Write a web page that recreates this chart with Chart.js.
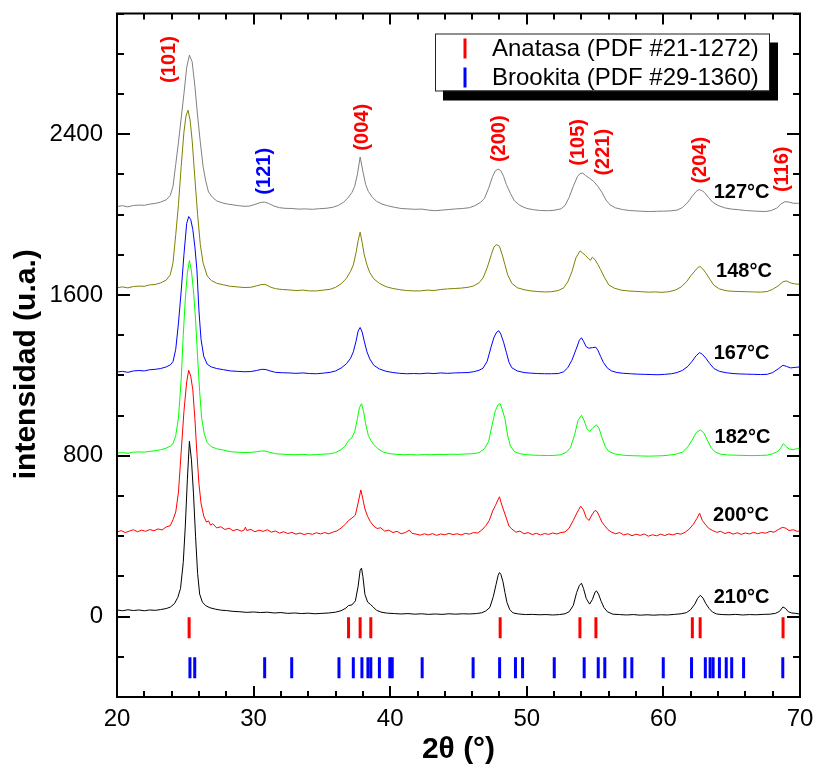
<!DOCTYPE html>
<html>
<head>
<meta charset="utf-8">
<title>DRX - TiO2</title>
<script src="https://cdn.jsdelivr.net/npm/chart.js"></script>
<style>
  html, body { margin: 0; padding: 0; background: #fff; }
  #wrap { width: 815px; height: 770px; }
</style>
</head>
<body>
<div id="wrap"><canvas id="drx" width="815" height="770"></canvas></div>
<script>
// ---- Reference reflections, 2θ (°) ----
const anatasaRefs = [25.28, 36.95, 37.80, 38.58, 48.05, 53.89, 55.06, 62.12, 62.69, 68.76];
const brookitaRefs = [25.34, 25.69, 30.81, 32.79, 36.25, 37.30, 37.93, 38.37, 38.58, 39.21,
  39.97, 40.15, 42.34, 46.07, 48.01, 49.17, 49.69, 52.01, 54.20, 55.23, 55.71, 57.18,
  57.69, 59.99, 62.06, 63.07, 63.42, 63.64, 64.10, 64.60, 65.00, 65.87, 68.74];

// ---- Axis ticks ----
const xTickValues = [20, 30, 40, 50, 60, 70];
const yTickValues = [0, 800, 1600, 2400];

// ---- Patterns, [2θ, intensidad] (curves offset vertically) ----
const t127 = [
  [20.0,2040],[20.4,2044],[20.8,2038],[21.2,2045],[21.6,2047],[22.0,2046],[22.4,2052],[22.8,2055],
  [23.2,2062],[23.6,2073],[23.9,2095],[24.1,2140],[24.3,2250],[24.5,2360],[24.7,2480],[24.9,2600],
  [25.1,2730],[25.3,2793],[25.5,2760],[25.7,2640],[25.9,2490],[26.1,2360],[26.3,2240],[26.5,2165],
  [26.7,2112],[27.0,2085],[27.3,2068],[27.7,2058],[28.1,2052],[28.5,2048],[28.9,2044],[29.3,2041],
  [29.7,2042],[30.1,2050],[30.5,2060],[30.8,2062],[31.1,2055],[31.5,2042],[31.9,2034],[32.3,2031],
  [32.8,2030],[33.3,2027],[33.8,2028],[34.3,2026],[34.8,2029],[35.3,2031],[35.8,2036],[36.2,2045],
  [36.6,2062],[36.9,2082],[37.2,2110],[37.4,2140],[37.6,2200],[37.8,2286],[38.0,2215],[38.2,2150],
  [38.4,2115],[38.7,2085],[39.0,2066],[39.4,2052],[39.8,2044],[40.3,2036],[40.8,2030],[41.3,2028],
  [41.8,2026],[42.3,2027],[42.8,2022],[43.3,2019],[43.8,2022],[44.3,2025],[44.8,2028],[45.3,2030],
  [45.8,2034],[46.2,2044],[46.6,2060],[46.9,2080],[47.2,2130],[47.5,2190],[47.7,2218],[47.9,2226],
  [48.1,2218],[48.3,2190],[48.5,2150],[48.8,2105],[49.1,2068],[49.5,2045],[50.0,2030],[50.5,2024],
  [51.0,2020],[51.5,2019],[52.0,2021],[52.5,2028],[52.8,2045],[53.1,2085],[53.4,2140],[53.7,2188],
  [53.9,2204],[54.1,2206],[54.3,2194],[54.6,2180],[54.9,2165],[55.2,2140],[55.5,2110],[55.8,2072],
  [56.1,2048],[56.5,2033],[57.0,2025],[57.5,2020],[58.0,2018],[58.5,2016],[59.0,2015],[59.5,2016],
  [60.0,2017],[60.5,2018],[61.0,2022],[61.4,2035],[61.8,2062],[62.1,2090],[62.4,2115],[62.6,2124],
  [62.8,2120],[63.0,2110],[63.3,2085],[63.6,2062],[64.0,2045],[64.5,2033],[65.0,2027],[65.5,2024],
  [66.0,2020],[66.5,2018],[67.0,2016],[67.5,2015],[67.9,2020],[68.3,2032],[68.6,2052],[68.9,2064],
  [69.2,2062],[69.5,2056],[69.8,2056],[70.0,2055]
];
const t148 = [
  [20.0,1636],[20.4,1640],[20.8,1635],[21.2,1642],[21.6,1644],[22.0,1643],[22.4,1650],[22.8,1652],
  [23.2,1660],[23.6,1674],[23.9,1700],[24.1,1760],[24.3,1900],[24.5,2050],[24.7,2240],[24.9,2410],
  [25.05,2490],[25.2,2519],[25.35,2470],[25.5,2370],[25.7,2181],[25.9,2000],[26.1,1850],[26.3,1760],
  [26.6,1695],[26.9,1672],[27.3,1658],[27.8,1650],[28.3,1643],[28.8,1640],[29.3,1637],[29.8,1638],
  [30.2,1645],[30.6,1652],[30.9,1651],[31.2,1640],[31.6,1631],[32.1,1627],[32.6,1625],[33.1,1622],
  [33.6,1624],[34.1,1620],[34.6,1620],[35.1,1624],[35.6,1628],[36.0,1638],[36.4,1655],[36.8,1683],
  [37.1,1718],[37.3,1749],[37.5,1810],[37.65,1870],[37.8,1912],[37.95,1860],[38.1,1800],[38.3,1749],
  [38.5,1712],[38.8,1680],[39.2,1658],[39.7,1641],[40.2,1632],[40.7,1626],[41.2,1622],[41.7,1620],
  [42.2,1620],[42.7,1624],[43.2,1622],[43.7,1627],[44.2,1630],[44.7,1632],[45.2,1634],[45.7,1638],
  [46.1,1645],[46.5,1660],[46.8,1685],[47.1,1735],[47.4,1800],[47.6,1840],[47.8,1850],[48.0,1842],
  [48.2,1800],[48.4,1750],[48.6,1700],[48.9,1658],[49.3,1636],[49.8,1626],[50.3,1620],[50.8,1617],
  [51.3,1615],[51.8,1616],[52.3,1622],[52.7,1635],[53.0,1665],[53.3,1715],[53.6,1785],[53.9,1819],
  [54.1,1808],[54.3,1796],[54.5,1782],[54.65,1772],[54.8,1788],[55.0,1775],[55.2,1752],[55.4,1726],
  [55.7,1685],[56.0,1650],[56.4,1634],[56.9,1624],[57.4,1620],[57.9,1618],[58.4,1616],[58.9,1614],
  [59.4,1615],[59.9,1613],[60.4,1616],[60.9,1625],[61.3,1640],[61.7,1666],[62.0,1695],[62.3,1719],
  [62.55,1738],[62.7,1741],[62.9,1728],[63.1,1710],[63.4,1678],[63.7,1648],[64.1,1630],[64.6,1621],
  [65.1,1618],[65.6,1617],[66.1,1616],[66.6,1615],[67.1,1614],[67.6,1617],[68.0,1628],[68.4,1645],
  [68.75,1665],[69.0,1670],[69.3,1660],[69.6,1655],[70.0,1653]
];
const t167 = [
  [20.0,1217],[20.4,1220],[20.8,1215],[21.2,1222],[21.6,1224],[22.0,1222],[22.4,1228],[22.8,1230],
  [23.2,1234],[23.6,1242],[23.9,1252],[24.1,1268],[24.3,1330],[24.5,1460],[24.7,1620],[24.9,1800],
  [25.1,1955],[25.25,1990],[25.4,1975],[25.55,1925],[25.7,1840],[25.85,1725],[26.0,1520],[26.15,1380],
  [26.35,1295],[26.6,1256],[26.9,1242],[27.3,1234],[27.8,1228],[28.3,1222],[28.8,1220],[29.3,1218],
  [29.8,1219],[30.2,1224],[30.6,1230],[30.9,1229],[31.2,1222],[31.6,1215],[32.1,1213],[32.6,1212],
  [33.1,1210],[33.6,1212],[34.1,1209],[34.6,1208],[35.1,1211],[35.6,1215],[36.0,1222],[36.4,1236],
  [36.8,1258],[37.1,1285],[37.3,1317],[37.5,1370],[37.65,1420],[37.8,1438],[37.95,1415],[38.1,1370],
  [38.3,1317],[38.5,1282],[38.8,1250],[39.2,1232],[39.7,1220],[40.2,1214],[40.7,1210],[41.2,1208],
  [41.7,1209],[42.2,1208],[42.7,1211],[43.2,1209],[43.7,1212],[44.2,1210],[44.7,1212],[45.2,1213],
  [45.7,1214],[46.1,1218],[46.5,1225],[46.8,1236],[47.1,1270],[47.4,1345],[47.6,1390],[47.8,1415],
  [47.95,1422],[48.1,1405],[48.3,1365],[48.5,1315],[48.7,1265],[48.9,1238],[49.3,1222],[49.8,1214],
  [50.3,1211],[50.8,1209],[51.3,1208],[51.8,1208],[52.3,1209],[52.7,1218],[53.0,1238],[53.3,1275],
  [53.6,1328],[53.85,1375],[54.0,1387],[54.15,1370],[54.35,1342],[54.55,1335],[54.8,1338],[55.05,1340],
  [55.2,1325],[55.4,1295],[55.6,1265],[55.9,1236],[56.2,1222],[56.6,1214],[57.1,1210],[57.6,1208],
  [58.1,1206],[58.6,1205],[59.1,1204],[59.6,1203],[60.1,1205],[60.6,1208],[61.0,1214],[61.4,1225],
  [61.8,1245],[62.1,1270],[62.4,1298],[62.65,1313],[62.85,1305],[63.1,1286],[63.4,1258],[63.7,1234],
  [64.1,1220],[64.6,1213],[65.1,1209],[65.6,1207],[66.1,1206],[66.6,1205],[67.1,1204],[67.6,1205],
  [68.0,1214],[68.4,1232],[68.75,1250],[69.0,1245],[69.3,1237],[69.7,1240],[70.0,1242]
];
const t182 = [
  [20.0,813],[20.4,816],[20.8,812],[21.2,818],[21.6,819],[22.0,818],[22.4,822],[22.8,825],
  [23.2,830],[23.6,838],[23.9,848],[24.1,860],[24.3,900],[24.5,990],[24.7,1180],[24.85,1400],
  [25.0,1580],[25.15,1710],[25.3,1771],[25.45,1720],[25.6,1620],[25.75,1480],[25.9,1290],[26.05,1120],
  [26.2,985],[26.4,905],[26.6,866],[26.9,845],[27.3,835],[27.8,828],[28.3,820],[28.8,818],
  [29.3,816],[29.8,817],[30.2,820],[30.6,824],[30.9,823],[31.2,817],[31.6,810],[32.1,808],
  [32.6,806],[33.1,805],[33.6,807],[34.1,804],[34.6,806],[35.1,808],[35.6,810],[36.0,816],
  [36.4,830],[36.7,848],[36.95,876],[37.2,890],[37.4,920],[37.6,985],[37.75,1040],[37.9,1059],
  [38.05,1020],[38.2,960],[38.4,901],[38.6,875],[38.8,856],[39.1,835],[39.5,818],[40.0,810],
  [40.5,807],[41.0,805],[41.5,806],[42.0,804],[42.5,806],[43.0,805],[43.5,807],[44.0,806],
  [44.5,808],[45.0,807],[45.5,809],[46.0,810],[46.5,815],[46.9,835],[47.2,870],[47.45,950],
  [47.7,1025],[47.9,1055],[48.05,1059],[48.2,1030],[48.4,984],[48.6,900],[48.8,848],[49.1,820],
  [49.5,810],[50.0,805],[50.5,803],[51.0,802],[51.5,801],[52.0,802],[52.5,805],[52.9,818],
  [53.2,840],[53.5,905],[53.75,975],[54.0,1001],[54.2,975],[54.4,935],[54.6,921],[54.85,940],
  [55.1,954],[55.3,935],[55.5,890],[55.75,845],[56.0,822],[56.4,810],[56.9,804],[57.4,801],
  [57.9,800],[58.4,799],[58.9,798],[59.4,799],[59.9,800],[60.4,803],[60.9,808],[61.4,818],
  [61.8,845],[62.1,878],[62.4,915],[62.7,929],[62.95,915],[63.2,880],[63.5,840],[63.8,818],
  [64.2,808],[64.7,804],[65.2,803],[65.7,802],[66.2,801],[66.7,801],[67.2,802],[67.6,803],
  [68.0,810],[68.4,823],[68.6,840],[68.78,860],[68.95,848],[69.2,834],[69.5,830],[69.8,836],
  [70.0,839]
];
const t200 = [
  [20.0,420],[20.3,428],[20.6,418],[20.9,425],[21.2,432],[21.5,422],[21.8,430],[22.1,424],
  [22.4,433],[22.7,427],[23.0,436],[23.3,431],[23.6,446],[23.9,452],[24.1,482],[24.3,520],
  [24.5,620],[24.7,820],[24.9,1020],[25.1,1167],[25.25,1225],[25.4,1195],[25.55,1128],[25.7,985],
  [25.85,812],[26.0,660],[26.15,565],[26.35,500],[26.55,470],[26.7,476],[26.85,455],[27.0,462],
  [27.3,441],[27.6,447],[27.9,433],[28.2,440],[28.5,427],[28.8,434],[29.1,425],[29.3,430],
  [29.4,445],[29.5,428],[29.8,434],[30.1,422],[30.4,430],[30.7,424],[31.0,432],[31.3,420],
  [31.6,426],[31.9,415],[32.2,422],[32.5,413],[32.8,419],[33.1,410],[33.4,416],[33.7,408],
  [34.0,414],[34.3,409],[34.6,417],[34.9,411],[35.2,418],[35.5,412],[35.8,420],[36.1,426],
  [36.4,440],[36.7,458],[36.95,478],[37.2,490],[37.45,505],[37.65,565],[37.85,630],[38.0,585],
  [38.15,535],[38.35,498],[38.55,472],[38.8,450],[39.05,438],[39.3,442],[39.6,425],[39.9,430],
  [40.2,418],[40.5,424],[40.8,412],[41.1,418],[41.4,430],[41.6,414],[41.9,410],[42.2,405],
  [42.5,412],[42.8,406],[43.1,413],[43.4,404],[43.7,411],[44.0,407],[44.3,414],[44.6,408],
  [44.9,412],[45.2,406],[45.5,414],[45.8,410],[46.1,418],[46.4,416],[46.7,430],[47.0,452],
  [47.25,478],[47.5,525],[47.7,552],[47.85,575],[48.0,596],[48.15,560],[48.3,530],[48.5,490],
  [48.7,450],[48.9,436],[49.2,420],[49.5,425],[49.8,412],[50.1,418],[50.4,408],[50.7,414],
  [51.0,406],[51.3,413],[51.6,409],[51.9,416],[52.2,411],[52.5,418],[52.8,421],[53.1,440],
  [53.4,478],[53.7,520],[53.95,549],[54.15,530],[54.35,492],[54.55,478],[54.8,510],[55.0,528],
  [55.15,522],[55.3,500],[55.5,470],[55.7,452],[55.95,432],[56.2,420],[56.5,412],[56.8,418],
  [57.1,406],[57.4,412],[57.7,402],[58.0,410],[58.3,404],[58.6,411],[58.9,400],[59.2,407],
  [59.5,402],[59.8,410],[60.1,403],[60.4,411],[60.7,406],[61.0,414],[61.3,410],[61.6,420],
  [61.9,436],[62.2,460],[62.45,488],[62.65,514],[62.85,478],[63.05,460],[63.3,440],[63.6,428],
  [63.9,419],[64.2,424],[64.5,413],[64.8,420],[65.1,410],[65.4,417],[65.7,409],[66.0,416],
  [66.3,411],[66.6,419],[66.9,412],[67.2,418],[67.5,415],[67.8,424],[68.1,420],[68.4,432],
  [68.7,444],[68.95,440],[69.2,428],[69.5,432],[69.8,424],[70.0,427]
];
const t210 = [
  [20.0,33],[20.4,29],[20.8,34],[21.2,30],[21.6,33],[22.0,29],[22.4,33],[22.8,31],
  [23.2,35],[23.6,40],[23.9,47],[24.2,64],[24.45,95],[24.65,140],[24.85,269],[25.0,450],
  [25.15,680],[25.3,872],[25.45,780],[25.6,610],[25.75,400],[25.9,215],[26.05,112],[26.25,72],
  [26.5,54],[26.8,44],[27.2,37],[27.6,32],[28.0,30],[28.5,26],[29.0,24],[29.5,21],
  [30.0,23],[30.5,20],[31.0,22],[31.5,18],[32.0,20],[32.5,16],[33.0,18],[33.5,15],
  [34.0,17],[34.5,14],[35.0,16],[35.5,18],[36.0,22],[36.4,29],[36.75,42],[36.95,55],
  [37.2,58],[37.45,78],[37.65,150],[37.8,230],[37.9,241],[38.0,200],[38.15,110],[38.35,72],
  [38.55,61],[38.75,48],[39.0,31],[39.4,21],[39.8,17],[40.3,15],[40.8,13],[41.3,15],
  [41.8,12],[42.3,14],[42.8,11],[43.3,13],[43.8,11],[44.3,14],[44.8,12],[45.3,14],
  [45.8,13],[46.3,15],[46.7,19],[47.0,28],[47.3,46],[47.55,100],[47.75,160],[47.9,205],
  [48.0,219],[48.1,210],[48.25,175],[48.4,120],[48.55,70],[48.75,35],[49.0,18],[49.4,13],
  [49.9,10],[50.4,11],[50.9,9],[51.4,10],[51.9,8],[52.4,10],[52.8,14],[53.1,24],
  [53.4,55],[53.65,120],[53.85,155],[54.0,166],[54.15,140],[54.35,90],[54.6,62],[54.8,85],
  [55.0,122],[55.1,128],[55.25,112],[55.45,75],[55.65,45],[55.9,24],[56.3,12],[56.8,10],
  [57.3,8],[57.8,10],[58.3,7],[58.8,9],[59.3,7],[59.8,9],[60.3,8],[60.8,11],
  [61.3,14],[61.7,20],[62.0,35],[62.3,62],[62.5,90],[62.7,106],[62.9,92],[63.1,65],
  [63.35,40],[63.6,22],[63.9,13],[64.3,10],[64.8,9],[65.3,11],[65.8,8],[66.3,10],
  [66.8,9],[67.3,11],[67.8,12],[68.2,16],[68.5,26],[68.75,48],[68.95,40],[69.15,24],
  [69.4,18],[69.7,16],[70.0,12]
];

const FONT = '"Liberation Sans", Arial, Helvetica, sans-serif';

// Temperature tag for each pattern and where it sits (2θ, intensidad)
const patterns = [
  { label: '127°C', color: '#808080', points: t127, tag: [65.72, 2108] },
  { label: '148°C', color: '#808000', points: t148, tag: [65.90, 1716] },
  { label: '167°C', color: '#0000ff', points: t167, tag: [65.72, 1309] },
  { label: '182°C', color: '#00ff00', points: t182, tag: [65.79, 892] },
  { label: '200°C', color: '#ff0000', points: t200, tag: [65.68, 503] },
  { label: '210°C', color: '#000000', points: t210, tag: [65.72, 96] }
];

// Miller indices written above the reflections (2θ, intensidad of label centre)
const hklTags = [
  { text: '(101)', at: [23.85, 2771], color: '#ff0000' },
  { text: '(121)', at: [30.83, 2215], color: '#0000ff' },
  { text: '(004)', at: [37.94, 2434], color: '#ff0000' },
  { text: '(200)', at: [47.97, 2377], color: '#ff0000' },
  { text: '(105)', at: [53.82, 2359], color: '#ff0000' },
  { text: '(221)', at: [55.58, 2310], color: '#ff0000' },
  { text: '(204)', at: [62.68, 2270], color: '#ff0000' },
  { text: '(116)', at: [68.75, 2225], color: '#ff0000' }
];

const curveSets = patterns.map(p => ({
  label: p.label,
  data: p.points.map(([x, y]) => ({ x, y })),
  showLine: true,
  borderColor: p.color,
  backgroundColor: p.color,
  borderWidth: 1,
  pointRadius: 0,
  tension: 0,
  tag: p.tag
}));

const refSet = (label, color, list, row) => ({
  label,
  data: list.map(x => ({ x, y: row })),
  showLine: false,
  pointStyle: 'line',
  rotation: 90,
  pointRadius: 10.5,
  pointBorderWidth: 3,
  borderColor: color,
  backgroundColor: color,
  inLegend: true
});

const datasets = curveSets.concat([
  refSet('Anatasa (PDF #21-1272)', '#ff0000', anatasaRefs, -55),
  refSet('Brookita (PDF #29-1360)', '#0000ff', brookitaRefs, -254)
]);

function rotatedText(ctx, text, x, y, font, color) {
  ctx.save();
  ctx.translate(x, y);
  ctx.rotate(-Math.PI / 2);
  ctx.font = font;
  ctx.fillStyle = color;
  ctx.textAlign = 'center';
  ctx.textBaseline = 'middle';
  ctx.fillText(text, 0, 0);
  ctx.restore();
}

// Closed frame with inward ticks on all four sides
const frameTicks = {
  id: 'frameTicks',
  afterDatasetsDraw(chart) {
    const { ctx, chartArea: a, scales: { x, y } } = chart;
    ctx.save();
    ctx.strokeStyle = '#000';
    ctx.lineWidth = 2;
    ctx.beginPath();
    for (let v = x.min; v <= x.max + 1e-9; v += 2) {
      const px = Math.round(x.getPixelForValue(v));
      const len = (Math.round(v) % 10 === 0) ? 11 : 6;
      ctx.moveTo(px, a.bottom); ctx.lineTo(px, a.bottom - len);
      ctx.moveTo(px, a.top); ctx.lineTo(px, a.top + len);
    }
    for (let v = Math.ceil(y.min / 200) * 200; v <= y.max + 1e-9; v += 200) {
      const py = Math.round(y.getPixelForValue(v));
      const len = (Math.round(v) % 800 === 0) ? 13 : 7;
      ctx.moveTo(a.left, py); ctx.lineTo(a.left + len, py);
      ctx.moveTo(a.right, py); ctx.lineTo(a.right - len, py);
    }
    ctx.stroke();
    ctx.strokeRect(a.left, a.top, a.right - a.left, a.bottom - a.top);
    ctx.restore();
  }
};

// Temperature tags, Miller indices, legend box and axis titles
const annotations = {
  id: 'annotations',
  afterDatasetsDraw(chart) {
    const { ctx, chartArea: a, scales: { x, y } } = chart;
    ctx.save();

    chart.data.datasets.forEach(ds => {
      if (!ds.tag) return;
      ctx.font = 'bold 20px ' + FONT;
      ctx.fillStyle = '#000';
      ctx.textAlign = 'center';
      ctx.textBaseline = 'middle';
      ctx.fillText(ds.label, x.getPixelForValue(ds.tag[0]), y.getPixelForValue(ds.tag[1]));
    });

    hklTags.forEach(h => {
      rotatedText(ctx, h.text, x.getPixelForValue(h.at[0]), y.getPixelForValue(h.at[1]),
        'bold 20px ' + FONT, h.color);
    });

    // legend with drop shadow
    const items = chart.data.datasets.filter(ds => ds.inLegend);
    const bw = 334, bh = 57;
    const bx = a.right - 31 - bw, by = a.top + 20;
    ctx.fillStyle = '#000';
    ctx.fillRect(bx + 8, by + 9, bw + 1, bh + 1);
    ctx.fillStyle = '#fff';
    ctx.fillRect(bx, by, bw, bh);
    ctx.strokeStyle = '#222';
    ctx.lineWidth = 1;
    ctx.strokeRect(bx + 0.5, by + 0.5, bw, bh);
    items.forEach((ds, i) => {
      const cy = by + 15 + i * 29;
      ctx.strokeStyle = ds.borderColor;
      ctx.lineWidth = 3;
      ctx.beginPath();
      ctx.moveTo(bx + 30, cy - 10);
      ctx.lineTo(bx + 30, cy + 10);
      ctx.stroke();
      ctx.font = '24px ' + FONT;
      ctx.fillStyle = '#000';
      ctx.textAlign = 'left';
      ctx.textBaseline = 'middle';
      ctx.fillText(ds.label, bx + 57, cy + 1);
    });

    // axis titles
    rotatedText(ctx, 'intensidad (u.a.)', 27, (a.top + a.bottom) / 2 + 9, 'bold 30px ' + FONT, '#000');
    ctx.font = 'bold 30px ' + FONT;
    ctx.fillStyle = '#000';
    ctx.textAlign = 'center';
    ctx.textBaseline = 'middle';
    ctx.fillText('2θ (°)', (a.left + a.right) / 2, 750);

    ctx.restore();
  }
};

new Chart(document.getElementById('drx'), {
  type: 'scatter',
  data: { datasets },
  options: {
    responsive: false,
    animation: false,
    devicePixelRatio: 1,
    layout: { padding: { left: 0, top: 12, right: 15, bottom: 0 } },
    plugins: {
      legend: { display: false },
      tooltip: { enabled: false }
    },
    scales: {
      x: {
        type: 'linear',
        min: 20,
        max: 70,
        afterBuildTicks: s => { s.ticks = xTickValues.map(v => ({ value: v })); },
        afterFit: s => { s.height = 73; s.paddingLeft = 0; s.paddingRight = 0; },
        grid: { display: false, drawTicks: false, tickLength: 0 },
        border: { display: false },
        ticks: {
          padding: 8,
          color: '#000',
          maxRotation: 0,
          autoSkip: false,
          font: { family: FONT, size: 24 },
          callback: v => String(v)
        }
      },
      y: {
        type: 'linear',
        min: -400,
        max: 3000,
        afterBuildTicks: s => { s.ticks = yTickValues.map(v => ({ value: v })); },
        afterFit: s => { s.width = 117; s.paddingTop = 0; s.paddingBottom = 0; },
        grid: { display: false, drawTicks: false, tickLength: 0 },
        border: { display: false },
        ticks: {
          padding: 14,
          color: '#000',
          autoSkip: false,
          font: { family: FONT, size: 24 },
          callback: v => String(v)
        }
      }
    }
  },
  plugins: [frameTicks, annotations]
});
</script>
</body>
</html>
